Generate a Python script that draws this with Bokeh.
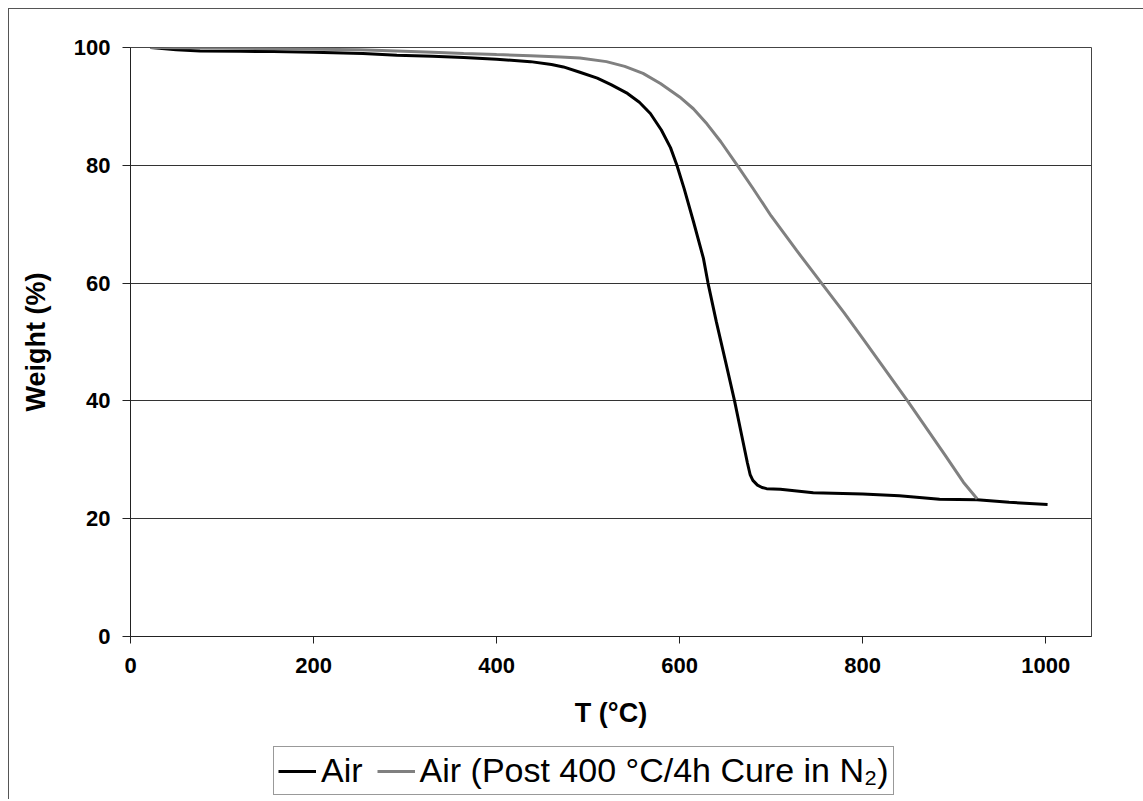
from bokeh.plotting import figure
from bokeh.layouts import column
from bokeh.models import Range1d, FixedTicker, Legend, LegendItem
from bokeh.embed import file_html
from bokeh.resources import INLINE

# ---- data ----
air_T = [22, 50, 76, 120, 156, 200, 254, 291, 330, 364, 400, 437, 460, 473, 491,
         510, 525, 543, 556, 568, 580, 590, 597, 605, 615, 626, 631, 640, 650, 660,
         668, 674, 677, 680, 685, 690, 695, 710, 746, 800, 840, 884, 925, 960, 1002]
air_W = [100, 99.6, 99.4, 99.35, 99.3, 99.2, 99.0, 98.7, 98.5, 98.3, 98.0, 97.6, 97.1,
         96.7, 95.8, 94.8, 93.7, 92.2, 90.7, 88.8, 86.0, 83.0, 80.0, 76.0, 70.5, 64.2,
         60.0, 53.5, 46.8, 40.0, 34.0, 29.5, 27.5, 26.5, 25.7, 25.3, 25.1, 25.0, 24.4,
         24.2, 23.9, 23.3, 23.2, 22.8, 22.4]

cured_T = [22, 100, 156, 250, 291, 330, 364, 400, 437, 470, 491, 520, 540, 560, 579,
           600, 615, 630, 645, 663, 680, 700, 728, 755, 780, 800, 820, 849, 870, 890,
           910, 925]
cured_W = [100, 99.9, 99.8, 99.6, 99.4, 99.2, 99.0, 98.8, 98.6, 98.4, 98.2, 97.6, 96.8,
           95.6, 93.9, 91.6, 89.6, 87.0, 84.0, 80.0, 76.1, 71.4, 65.5, 60.0, 54.9, 50.6,
           46.3, 40.0, 35.3, 30.8, 26.2, 23.4]

x_ticks = [0, 200, 400, 600, 800, 1000]
y_ticks = [0, 20, 40, 60, 80, 100]
labels = ["Air", "Air (Post 400 \u00b0C/4h Cure in N\u2082)"]
colors = ["black", "#808080"]

FONT = "Liberation Sans"

# ---- main chart ----
p = figure(width=1134, height=735, output_backend="svg", toolbar_location=None,
           x_range=Range1d(0, 1050), y_range=Range1d(0, 100),
           min_border_left=121, min_border_top=38, min_border_right=52,
           min_border_bottom=108)

p.outline_line_color = "#444444"
p.outline_line_width = 1
p.background_fill_color = "white"
p.border_fill_color = "white"

p.xgrid.visible = False
p.ygrid.ticker = FixedTicker(ticks=y_ticks)
p.ygrid.grid_line_color = "#333333"
p.ygrid.grid_line_width = 1

p.xaxis.ticker = FixedTicker(ticks=x_ticks)
p.yaxis.ticker = FixedTicker(ticks=y_ticks)
for ax in (p.xaxis, p.yaxis):
    ax.axis_line_color = "#222222"
    ax.major_tick_line_color = "#222222"
    ax.minor_tick_line_color = None
    ax.major_tick_in = 0
    ax.major_label_text_font = FONT
    ax.major_label_text_font_style = "bold"
    ax.major_label_text_font_size = "22px"
    ax.major_label_text_color = "black"
    ax.axis_label_text_font = FONT
    ax.axis_label_text_font_style = "bold"
    ax.axis_label_text_font_size = "27px"
    ax.axis_label_text_color = "black"
p.xaxis.major_tick_out = 7
p.yaxis.major_tick_out = 8
p.xaxis.major_label_standoff = 14
p.yaxis.major_label_standoff = 12
p.xaxis.axis_label = "T (\u00b0C)"
p.yaxis.axis_label = "Weight (%)"
p.xaxis.axis_label_standoff = 22
p.yaxis.axis_label_standoff = 20

p.line(air_T, air_W, line_color=colors[0], line_width=3)
p.line(cured_T, cured_W, line_color=colors[1], line_width=3)

# ---- legend strip below the chart (its glyph sources lie outside the strip's view) ----
p2 = figure(width=1134, height=55, output_backend="svg", toolbar_location=None,
            x_axis_location=None, y_axis_location=None, min_border=0,
            x_range=Range1d(0, 1), y_range=Range1d(0, 1))
p2.outline_line_color = None
p2.grid.visible = False
p2.border_fill_color = "white"
k1 = p2.line(air_T, air_W, line_color=colors[0], line_width=3)
k2 = p2.line(cured_T, cured_W, line_color=colors[1], line_width=3)

legend = Legend(items=[LegendItem(label=labels[0], renderers=[k1]),
                       LegendItem(label=labels[1], renderers=[k2])],
                orientation="horizontal", location=(143, 4))
legend.label_text_font = FONT
legend.label_text_font_size = "34px"
legend.label_text_color = "black"
legend.glyph_width = 38
legend.glyph_height = 36
legend.label_standoff = 5
legend.spacing = 14
legend.padding = 4
legend.margin = 0
legend.border_line_color = "#333333"
legend.border_line_width = 1
legend.background_fill_alpha = 1
p2.add_layout(legend, "center")

layout = column(p, p2, spacing=0)
layout.styles = {"margin-left": "8px", "margin-top": "8px",
                 "border-top": "1px solid #555555", "border-left": "1px solid #555555"}

open("out.html", "w").write(file_html(layout, INLINE))
